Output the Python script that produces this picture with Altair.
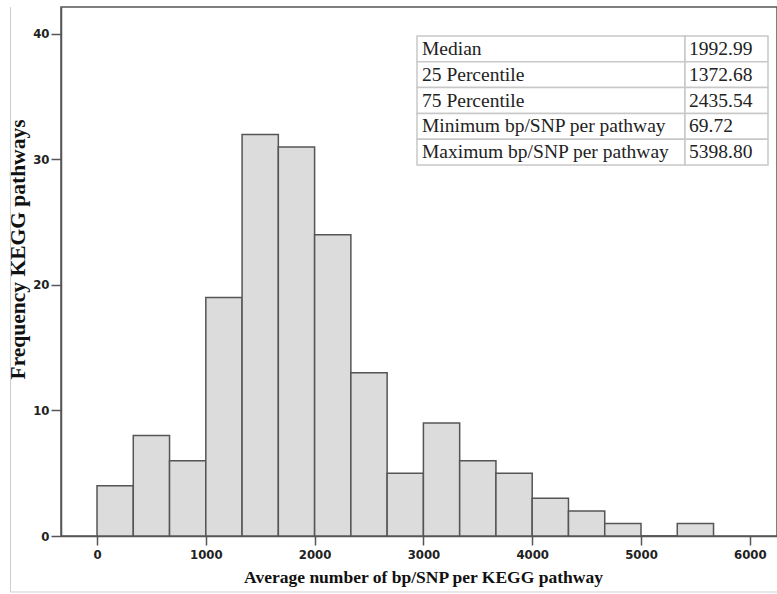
import altair as alt
import pandas as pd

# Histogram data (bin edges and counts)
bin_start = [0, 333.33, 666.67, 1000, 1333.33, 1666.67, 2000, 2333.33, 2666.67,
             3000, 3333.33, 3666.67, 4000, 4333.33, 4666.67, 5000, 5333.33]
bin_end = [333.33, 666.67, 1000, 1333.33, 1666.67, 2000, 2333.33, 2666.67, 3000,
           3333.33, 3666.67, 4000, 4333.33, 4666.67, 5000, 5333.33, 5666.67]
counts = [4, 8, 6, 19, 32, 31, 24, 13, 5, 9, 6, 5, 3, 2, 1, 0, 1]

x_ticks = [0, 1000, 2000, 3000, 4000, 5000, 6000]
y_ticks = [0, 10, 20, 30, 40]

# Statistics table
stat_labels = ["Median", "25 Percentile", "75 Percentile",
               "Minimum bp/SNP per pathway", "Maximum bp/SNP per pathway"]
stat_values = ["1992.99", "1372.68", "2435.54", "69.72", "5398.80"]

hist_df = pd.DataFrame({"start": bin_start, "end": bin_end, "count": counts})
table_df = pd.DataFrame({"label": stat_labels, "value": stat_values})

W, H = 716, 529
serif = "Liberation Serif"
tickfont = "DejaVu Sans Condensed, DejaVu Sans, sans-serif"

hist = alt.Chart(hist_df).mark_rect(
    fill="#dcdcdc", stroke="#555555", strokeWidth=1.5
).encode(
    x=alt.X("start:Q",
            scale=alt.Scale(domain=[-331, 6250], nice=False, zero=False),
            axis=alt.Axis(values=x_ticks, format="d", grid=False, tickSize=9,
                          labelPadding=3, title="Average number of bp/SNP per KEGG pathway",
                          titleFontSize=17.5,
                          titleX=362, titleY=41, titleBaseline="middle",
                          titleAnchor="middle", titleAlign="center")),
    x2="end:Q",
    y=alt.Y("count:Q",
            scale=alt.Scale(domain=[0, 42.15], nice=False),
            axis=alt.Axis(values=y_ticks, format="d", grid=False, tickSize=10,
                          labelPadding=2, title="Frequency KEGG pathways",
                          titleFontSize=21.5,
                          titleX=-43, titleY=242, titleAngle=270,
                          titleAlign="center", titleBaseline="middle")),
    y2=alt.datum(0),
)

row_y = alt.Y("label:N", sort=stat_labels,
              scale=alt.Scale(range=[29, 158], paddingInner=0, paddingOuter=0),
              axis=None)

cells_left = alt.Chart(table_df).mark_rect(
    fill="white", stroke="#c8c8c8", strokeWidth=1.5
).encode(x=alt.value(356), x2=alt.value(624), y=row_y)

cells_right = alt.Chart(table_df).mark_rect(
    fill="white", stroke="#c8c8c8", strokeWidth=1.5
).encode(x=alt.value(624), x2=alt.value(707), y=row_y)

text_left = alt.Chart(table_df).mark_text(
    align="left", baseline="middle", font=serif, fontSize=19.5, color="#222222"
).encode(x=alt.value(361), y=row_y, text="label:N")

text_right = alt.Chart(table_df).mark_text(
    align="left", baseline="middle", font=serif, fontSize=19.5, color="#222222"
).encode(x=alt.value(628), y=row_y, text="value:N")

border_v = alt.Chart(table_df.head(1)).mark_rule(
    color="#cfcfcf", strokeWidth=1
).encode(x=alt.value(-50.5), y=alt.value(0), y2=alt.value(585))

border_h = alt.Chart(table_df.head(1)).mark_rule(
    color="#cfcfcf", strokeWidth=1
).encode(x=alt.value(-50.5), x2=alt.value(720), y=alt.value(585))

chart = alt.layer(
    hist, cells_left, cells_right, text_left, text_right, border_v, border_h
).resolve_scale(y="independent").properties(
    width=W, height=H,
    autosize=alt.AutoSizeParams(type="none"),
    padding={"left": 61, "top": 7, "right": 0, "bottom": 58},
    background="white",
).configure_view(
    stroke="#555555", strokeWidth=1.5
).configure_axis(
    domainColor="#555555", domainWidth=1.5, tickColor="#555555", tickWidth=1.5,
    labelFont=tickfont, labelFontSize=13, labelFontWeight="bold", labelColor="#222222",
    titleFont=serif, titleFontWeight="bold", titleColor="#111111",
)

chart.save("out.html", embed_options={"renderer": "svg", "actions": False})
